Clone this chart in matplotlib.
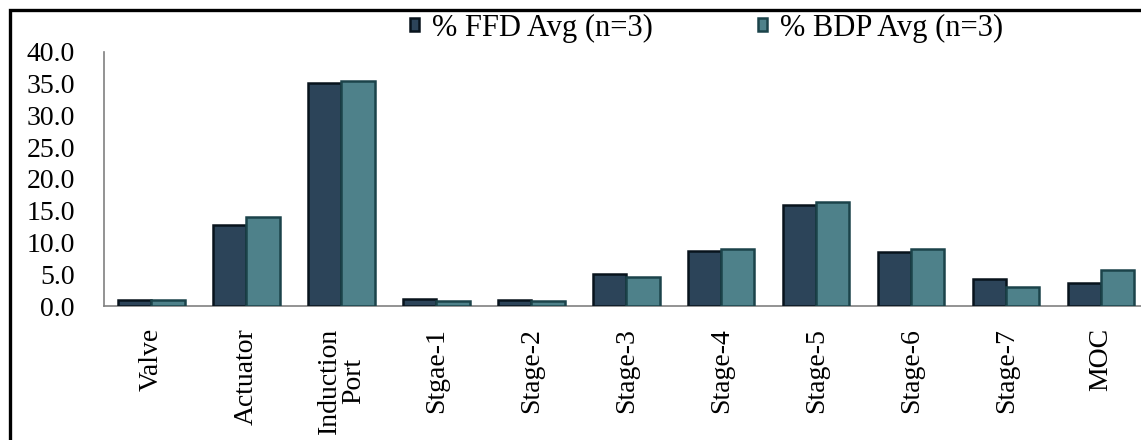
import matplotlib
matplotlib.use("Agg")
import matplotlib.pyplot as plt
import numpy as np
from matplotlib.patches import Rectangle

categories = ["Valve", "Actuator", "Induction\nPort", "Stgae-1", "Stage-2", "Stage-3",
              "Stage-4", "Stage-5", "Stage-6", "Stage-7", "MOC"]
ffd_avg = [0.9, 12.8, 35.1, 1.15, 1.0, 5.0, 8.7, 15.9, 8.5, 4.2, 3.6]
bdp_avg = [0.9, 14.0, 35.5, 0.8, 0.8, 4.6, 8.9, 16.4, 8.9, 3.0, 5.7]
series_labels = ["% FFD Avg (n=3)", "% BDP Avg (n=3)"]
yticks = [0, 5, 10, 15, 20, 25, 30, 35, 40]

plt.rcParams['font.family'] = ['Liberation Serif', 'DejaVu Serif']

W, H = 1141, 440
fig = plt.figure(figsize=(W / 100, H / 100), dpi=100)
ax = fig.add_axes([104 / W, 1 - 306 / H, 1 - 104 / W, (306 - 52) / H])

x = np.arange(len(categories))
bw = 0.35
b1 = ax.bar(x - bw / 2, ffd_avg, bw, color="#2C4459", edgecolor="#08131C",
            linewidth=1.8, label=series_labels[0], zorder=3)
b2 = ax.bar(x + bw / 2, bdp_avg, bw, color="#4E818A", edgecolor="#1B434A",
            linewidth=1.8, label=series_labels[1], zorder=3)

ax.set_ylim(0, 40)
ax.set_xlim(-0.5, 10.42)
ax.set_yticks(yticks)
ax.set_yticklabels([f"{v:.1f}" for v in yticks], fontsize=20)
ax.tick_params(axis='y', length=0, pad=21)
ax.set_xticks(x)
ax.set_xticklabels(categories, rotation=90, fontsize=20, va='top', ha='center',
                   multialignment='center', linespacing=0.95)
ax.tick_params(axis='x', length=0, pad=16)
for s in ["top", "right"]:
    ax.spines[s].set_visible(False)
for s in ["left", "bottom"]:
    ax.spines[s].set_color("#808080")
    ax.spines[s].set_linewidth(1.2)

leg = fig.legend(handles=[b1, b2], labels=series_labels, loc="center left",
                 bbox_to_anchor=(410 / W, 1 - 28 / H), ncol=2, frameon=False,
                 fontsize=22, handlelength=0.3, handleheight=0.3,
                 handletextpad=0.42, columnspacing=3.45, borderpad=0, borderaxespad=0)

fig.patches.append(Rectangle((9.5 / W, -0.1), 1.2, 1.1 - 10.5 / H, transform=fig.transFigure,
                             fill=False, edgecolor="black", linewidth=2.4, clip_on=False))

fig.savefig("out.png", dpi=100)
